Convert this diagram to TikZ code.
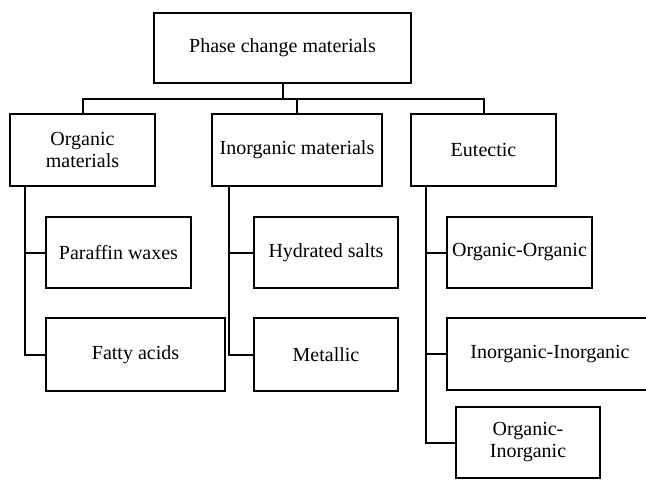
\documentclass[tikz,border=0pt]{standalone}
\usepackage{fontspec}
\setmainfont{Liberation Serif}
\usepackage{tikz}
\usetikzlibrary{positioning, calc}

\begin{document}
\begin{tikzpicture}[
    x=0.75pt, y=-0.75pt,
    box/.style={rectangle, draw, line width=1.5pt, align=center, inner sep=2pt,
                minimum height=71*0.75pt, font=\fontsize{15}{16.5}\selectfont},
    conn/.style={draw, line width=1.5pt}
]
\useasboundingbox (0,0) rectangle (646,479);

% Root
\node[box, minimum width=257*0.75pt, minimum height=70*0.75pt] (pcm) at (282.5,48) {Phase change materials};

% Main classes
\node[box, minimum width=145*0.75pt, minimum height=72*0.75pt] (organic) at (82.5,150) {Organic\\materials};
\node[box, minimum width=170*0.75pt, minimum height=72*0.75pt] (inorganic) at (297,150) {Inorganic materials};
\node[box, minimum width=145*0.75pt, minimum height=72*0.75pt] (eutectic) at (483.5,150) {Eutectic};

% Organic sub-classes
\node[box, minimum width=145*0.75pt] (paraffin) at (118.5,252.5) {Paraffin waxes};
\node[box, minimum width=179*0.75pt, minimum height=73*0.75pt] (fatty) at (135.5,354.5) {Fatty acids};

% Inorganic sub-classes
\node[box, minimum width=144*0.75pt] (hydrated) at (326,252.5) {Hydrated salts};
\node[box, minimum width=144*0.75pt, minimum height=73*0.75pt] (metallic) at (326,354.5) {Metallic};

% Eutectic sub-classes
\node[box, minimum width=145*0.75pt] (orgorg) at (519.5,252.5) {Organic-Organic};
\node[box, minimum width=206*0.75pt, minimum height=72*0.75pt] (inoinorg) at (550,354) {Inorganic-Inorganic};
\node[box, minimum width=144*0.75pt] (orginorg) at (528,442.5) {Organic-\\Inorganic};

% Bus below the root
\coordinate (bus) at (283,99);
\draw[conn] (pcm.south -| bus) -- (bus);
\draw[conn] (organic.north) |- (bus) -| (eutectic.north);
\draw[conn] (inorganic.north) -- (inorganic.north |- bus);

% Trunks of the main classes
\coordinate (orgtrunk) at (25,186);
\coordinate (inotrunk) at (229,186);
\coordinate (euttrunk) at (426,186);

\draw[conn] (orgtrunk) |- (fatty.west);
\draw[conn] (orgtrunk |- paraffin.west) -- (paraffin.west);

\draw[conn] (inotrunk) |- (metallic.west);
\draw[conn] (inotrunk |- hydrated.west) -- (hydrated.west);

\draw[conn] (euttrunk) |- (orginorg.west);
\draw[conn] (euttrunk |- orgorg.west) -- (orgorg.west);
\draw[conn] (euttrunk |- inoinorg.west) -- (inoinorg.west);

\end{tikzpicture}
\end{document}
